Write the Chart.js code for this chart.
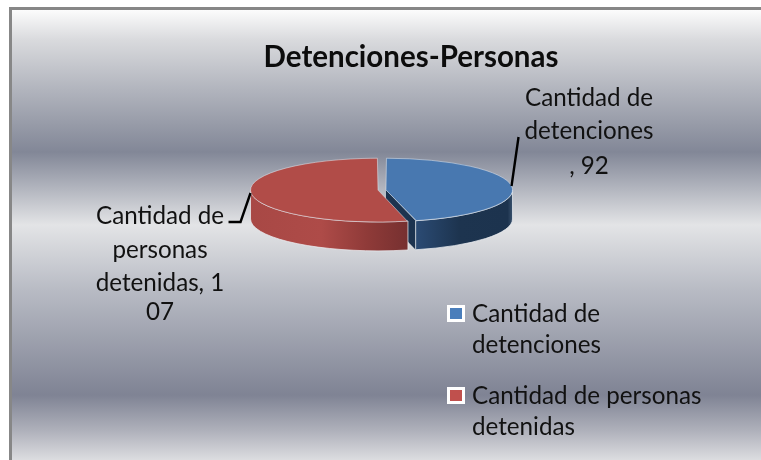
<!DOCTYPE html>
<html><head><meta charset="utf-8">
<style>html,body{margin:0;padding:0;background:#fff;overflow:hidden}canvas{display:block}</style>
<script src="https://cdn.jsdelivr.net/npm/chart.js@4"></script></head>
<body><div style="width:761px;height:460px;position:relative"><canvas id="c" width="761" height="460"></canvas></div>
<script>
const titleText = 'Detenciones-Personas';
const categories = ['Cantidad de detenciones', 'Cantidad de personas detenidas'];
const values = [92, 107];
const topColors = ['#4878b0', '#b14c48'];
const legendColors = ['#4a7ebb', '#c0504d'];
const legendLines = [['Cantidad de', 'detenciones'], ['Cantidad de personas', 'detenidas']];
const dataLabelLines = [['Cantidad de', 'detenciones', ', 92'], ['Cantidad de', 'personas', 'detenidas, 1', '07']];

const K = 0.25, DEPTH = 29;
const FONT = 'Lato, Carlito, sans-serif';

function geom(el) {
  const p = el.getProps(['x', 'y', 'startAngle', 'endAngle', 'outerRadius']);
  const half = (p.startAngle + p.endAngle) / 2, off = (el.options.offset || 0) / 4;
  const fix = 1 - Math.sin(Math.min(Math.PI, p.endAngle - p.startAngle));
  return { cx: p.x + Math.cos(half) * off, cy: p.y, r: p.outerRadius + off * fix, a: p.startAngle, b: p.endAngle };
}
function wall(ctx, g, from, to, fill) {
  ctx.beginPath();
  ctx.ellipse(g.cx, g.cy, g.r, g.r * K, 0, from, to, false);
  ctx.ellipse(g.cx, g.cy + DEPTH, g.r, g.r * K, 0, to, from, true);
  ctx.closePath();
  ctx.fillStyle = fill; ctx.fill();
  ctx.strokeStyle = 'rgba(235,238,242,.75)'; ctx.lineWidth = 1; ctx.stroke();
}
const pie3d = {
  id: 'pie3d',
  beforeDraw(chart) {
    const { ctx, width, height } = chart;
    ctx.save();
    ctx.fillStyle = '#ffffff'; ctx.fillRect(0, 0, width, height);
    const top = 7, bottom = 460;
    const gr = ctx.createLinearGradient(0, top, 0, bottom);
    [[10,'#fcfcfc'],[40,'#d9dadd'],[90,'#b1b4bd'],[152,'#828797'],[190,'#b4b7c0'],[225,'#e3e4e6'],[290,'#b8bbc4'],[395,'#7f8394'],[430,'#aeb0ba'],[460,'#dcdde0']]
      .forEach(([y, c]) => gr.addColorStop((y - top) / (bottom - top), c));
    ctx.fillStyle = '#878787'; ctx.fillRect(9, 7, width - 9, height - 7);
    ctx.fillStyle = gr; ctx.fillRect(12, 10, width - 12, height - 10);
    ctx.restore();
  },
  beforeDatasetsDraw(chart) {
    const { ctx } = chart;
    const meta = chart.getDatasetMeta(0);
    const [gb, gr] = meta.data.map(geom);
    ctx.save();
    const ex = gb.cx + gb.r * Math.cos(gb.b), ey = gb.cy + gb.r * K * Math.sin(gb.b);
    ctx.beginPath();
    ctx.moveTo(gb.cx, gb.cy); ctx.lineTo(ex, ey); ctx.lineTo(ex, ey + DEPTH); ctx.lineTo(gb.cx, gb.cy + DEPTH); ctx.closePath();
    ctx.fillStyle = '#1c334f'; ctx.fill();
    let grad = ctx.createLinearGradient(ex, 0, gb.cx + gb.r, 0);
    grad.addColorStop(0, '#2b4b74'); grad.addColorStop(0.45, '#1d344f'); grad.addColorStop(0.95, '#1c334e'); grad.addColorStop(1, '#3a526e');
    wall(ctx, gb, 0, gb.b, grad);
    const rx = gr.cx + gr.r * Math.cos(gr.a);
    grad = ctx.createLinearGradient(gr.cx - gr.r, 0, rx, 0);
    grad.addColorStop(0, '#a84845'); grad.addColorStop(0.45, '#ae4b48'); grad.addColorStop(0.75, '#8e3a38'); grad.addColorStop(1, '#763030');
    wall(ctx, gr, gr.a, Math.PI, grad);
    const { x, y } = meta.data[0].getProps(['x', 'y']);
    ctx.restore();
    ctx.save();
    ctx.translate(x, y); ctx.scale(1, K); ctx.translate(-x, -y);
  },
  afterDatasetsDraw(chart) { chart.ctx.restore(); },
  afterDraw(chart) {
    const { ctx } = chart;
    const [gb, gr] = chart.getDatasetMeta(0).data.map(geom);
    ctx.save();
    ctx.strokeStyle = '#000'; ctx.lineWidth = 2.4; ctx.lineJoin = 'miter';
    ctx.beginPath();
    ctx.moveTo(gb.cx + gb.r - 1, gb.cy - 4); ctx.lineTo(gb.cx + gb.r + 6, gb.cy - 53);
    ctx.moveTo(gr.cx - gr.r, gr.cy + 3); ctx.lineTo(gr.cx - gr.r - 10, gr.cy + 32); ctx.lineTo(gr.cx - gr.r - 22, gr.cy + 32);
    ctx.stroke();
    ctx.fillStyle = '#0c0c0c'; ctx.textBaseline = 'alphabetic';
    ctx.textAlign = 'center';
    ctx.font = 'bold 29.5px ' + FONT;
    ctx.fillText(titleText, 411, 67);
    ctx.font = '24.2px ' + FONT; ctx.fillStyle = '#111';
    [[106, 139, 174], [224, 258, 291, 320]].forEach((ys, i) => {
      const cx = i === 0 ? 589 : 160;
      ys.forEach((yy, j) => ctx.fillText(dataLabelLines[i][j], cx, yy));
    });
    ctx.textAlign = 'left';
    const rows = [[305, 322, 353], [387, 404, 435]];
    categories.forEach((c, i) => {
      const y0 = rows[i][0];
      ctx.fillStyle = '#fff'; ctx.fillRect(447, y0, 18, 17);
      ctx.fillStyle = legendColors[i]; ctx.fillRect(450, y0 + 3, 12, 11);
      ctx.fillStyle = '#111';
      ctx.fillText(legendLines[i][0], 472, rows[i][1]);
      ctx.fillText(legendLines[i][1], 472, rows[i][2]);
    });
    ctx.restore();
  }
};
new Chart(document.getElementById('c'), {
  type: 'pie',
  data: { labels: categories, datasets: [{ data: values, backgroundColor: topColors, borderColor: 'rgba(225,230,238,.85)', borderWidth: 1, offset: 16 }] },
  options: {
    responsive: false, animation: false,
    layout: { padding: { left: 250, right: 247, top: 58, bottom: 138 } },
    plugins: { legend: { display: false }, title: { display: false }, tooltip: { enabled: false } }
  },
  plugins: [pie3d]
});
</script></body></html>
